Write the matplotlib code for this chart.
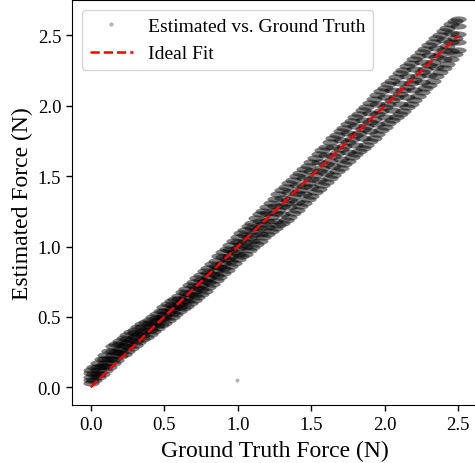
import matplotlib
matplotlib.use('Agg')
import matplotlib.pyplot as plt
from matplotlib.markers import MarkerStyle
from matplotlib.transforms import Affine2D
from matplotlib.lines import Line2D

plt.rcParams['font.family'] = ['Liberation Serif', 'DejaVu Serif']

# ground truth force (N) where the band was read
gt_force = [0.00, 0.05, 0.10, 0.15, 0.20, 0.25, 0.30, 0.35, 0.40, 0.45,
            0.50, 0.55, 0.60, 0.65, 0.70, 0.75, 0.80, 0.85, 0.90, 0.95,
            1.00, 1.05, 1.10, 1.15, 1.20, 1.25, 1.30, 1.35, 1.40, 1.45,
            1.50, 1.55, 1.60, 1.65, 1.70, 1.75, 1.80, 1.85, 1.90, 1.95,
            2.00, 2.05, 2.10, 2.15, 2.20, 2.25, 2.30, 2.35, 2.40, 2.45,
            2.50]

# estimated force, read across the band (lower edge -> upper edge)
est_low = [0.03, 0.07, 0.12, 0.17, 0.22, 0.26, 0.30, 0.34, 0.38, 0.42,
           0.46, 0.50, 0.54, 0.58, 0.62, 0.66, 0.71, 0.76, 0.81, 0.86,
           0.91, 0.95, 1.00, 1.04, 1.09, 1.13, 1.17, 1.21, 1.26, 1.31,
           1.36, 1.41, 1.46, 1.51, 1.56, 1.61, 1.66, 1.70, 1.75, 1.80,
           1.85, 1.90, 1.94, 1.99, 2.04, 2.10, 2.15, 2.21, 2.27, 2.33,
           2.40]
est_q1 = [0.05, 0.095, 0.15, 0.20, 0.25, 0.29, 0.33, 0.37, 0.405, 0.445,
          0.49, 0.53, 0.57, 0.61, 0.655, 0.70, 0.745, 0.795, 0.85, 0.90,
          0.95, 0.995, 1.04, 1.09, 1.14, 1.185, 1.23, 1.28, 1.32, 1.37,
          1.42, 1.47, 1.52, 1.575, 1.625, 1.675, 1.725, 1.77, 1.82, 1.87,
          1.92, 1.97, 2.015, 2.065, 2.115, 2.17, 2.22, 2.275, 2.335, 2.39,
          2.455]
est_mid = [0.075, 0.12, 0.175, 0.23, 0.275, 0.315, 0.355, 0.395, 0.43, 0.47,
           0.515, 0.555, 0.595, 0.64, 0.685, 0.73, 0.78, 0.83, 0.885, 0.935,
           0.99, 1.035, 1.085, 1.135, 1.185, 1.235, 1.285, 1.33, 1.38, 1.43,
           1.48, 1.535, 1.585, 1.64, 1.69, 1.74, 1.79, 1.835, 1.885, 1.94,
           1.99, 2.04, 2.085, 2.135, 2.185, 2.24, 2.29, 2.345, 2.40, 2.455,
           2.51]
est_q3 = [0.10, 0.145, 0.20, 0.26, 0.305, 0.345, 0.385, 0.425, 0.455, 0.495,
          0.545, 0.585, 0.625, 0.67, 0.72, 0.765, 0.815, 0.865, 0.925, 0.975,
          1.03, 1.08, 1.13, 1.185, 1.235, 1.29, 1.345, 1.39, 1.44, 1.49,
          1.54, 1.60, 1.65, 1.705, 1.755, 1.805, 1.855, 1.90, 1.95, 2.01,
          2.06, 2.11, 2.16, 2.21, 2.26, 2.31, 2.36, 2.41, 2.465, 2.52,
          2.565]
est_high = [0.12, 0.17, 0.23, 0.29, 0.33, 0.37, 0.41, 0.45, 0.48, 0.52,
            0.57, 0.61, 0.65, 0.70, 0.75, 0.80, 0.85, 0.90, 0.96, 1.01,
            1.07, 1.12, 1.17, 1.23, 1.28, 1.34, 1.40, 1.45, 1.50, 1.55,
            1.60, 1.66, 1.71, 1.77, 1.82, 1.87, 1.92, 1.97, 2.02, 2.08,
            2.13, 2.18, 2.23, 2.28, 2.33, 2.38, 2.43, 2.48, 2.53, 2.58,
            2.62]

# second pass of readings, between the columns above
gt_force_b = [0.025, 0.075, 0.125, 0.175, 0.225, 0.275, 0.325, 0.375, 0.425, 0.475,
              0.525, 0.575, 0.625, 0.675, 0.725, 0.775, 0.825, 0.875, 0.925, 0.975,
              1.025, 1.075, 1.125, 1.175, 1.225, 1.275, 1.325, 1.375, 1.425, 1.475,
              1.525, 1.575, 1.625, 1.675, 1.725, 1.775, 1.825, 1.875, 1.925, 1.975,
              2.025, 2.075, 2.125, 2.175, 2.225, 2.275, 2.325, 2.375, 2.425, 2.475]
est_low_b = [0.05, 0.095, 0.145, 0.195, 0.24, 0.28, 0.32, 0.36, 0.40, 0.44,
             0.48, 0.52, 0.56, 0.60, 0.64, 0.685, 0.735, 0.785, 0.835, 0.885,
             0.93, 0.975, 1.02, 1.065, 1.11, 1.15, 1.19, 1.235, 1.285, 1.335,
             1.385, 1.435, 1.485, 1.535, 1.585, 1.635, 1.68, 1.725, 1.775, 1.825,
             1.875, 1.92, 1.965, 2.015, 2.07, 2.125, 2.18, 2.24, 2.30, 2.365]
est_mid_b = [0.095, 0.15, 0.20, 0.25, 0.295, 0.335, 0.375, 0.41, 0.45, 0.49,
             0.535, 0.575, 0.615, 0.66, 0.705, 0.755, 0.805, 0.855, 0.91, 0.96,
             1.01, 1.06, 1.11, 1.16, 1.21, 1.26, 1.31, 1.355, 1.405, 1.455,
             1.51, 1.56, 1.61, 1.665, 1.715, 1.765, 1.81, 1.86, 1.91, 1.965,
             2.015, 2.06, 2.11, 2.16, 2.21, 2.265, 2.315, 2.37, 2.425, 2.48]
est_high_b = [0.145, 0.20, 0.26, 0.31, 0.35, 0.39, 0.43, 0.465, 0.50, 0.545,
              0.59, 0.63, 0.675, 0.725, 0.775, 0.825, 0.875, 0.93, 0.985, 1.04,
              1.095, 1.145, 1.20, 1.255, 1.31, 1.37, 1.425, 1.475, 1.525, 1.575,
              1.63, 1.685, 1.74, 1.795, 1.845, 1.895, 1.945, 1.995, 2.05, 2.105,
              2.155, 2.205, 2.255, 2.305, 2.355, 2.405, 2.455, 2.505, 2.555, 2.60]

# single stray sample
outlier_gt = [0.995]
outlier_est = [0.052]

ideal = [0.0, 2.5]

fig = plt.figure(figsize=(4.75, 4.64), dpi=100)
ax = fig.add_axes([0.1522, 0.1256, 0.8514, 0.8722])

# thin horizontal streaks so neighbouring samples merge into a band
streak = MarkerStyle('o', transform=Affine2D().scale(2.6, 1.0))
for est in [est_low, est_q1, est_mid, est_q3, est_high]:
    ax.scatter(gt_force, est, s=20, marker=streak, color='black',
               alpha=0.5, linewidths=0)
for est in [est_low_b, est_mid_b, est_high_b]:
    ax.scatter(gt_force_b, est, s=20, marker=streak, color='black',
               alpha=0.5, linewidths=0)
ax.scatter(outlier_gt, outlier_est, s=8, color='black', alpha=0.3, linewidths=0)

ax.plot(ideal, ideal, color='red', linestyle='--', linewidth=1.8)

ax.set_xlim(-0.125, 2.625)
ax.set_ylim(-0.124, 2.752)
ax.set_xticks([0.0, 0.5, 1.0, 1.5, 2.0, 2.5])
ax.set_yticks([0.0, 0.5, 1.0, 1.5, 2.0, 2.5])
ax.tick_params(labelsize=13.5, length=4.5, width=1.0)
ax.set_xlabel('Ground Truth Force (N)', fontsize=17, labelpad=5)
ax.set_ylabel('Estimated Force (N)', fontsize=17, labelpad=3)

handles = [
    Line2D([], [], linestyle='none', marker='o', markersize=3,
           color='black', alpha=0.3, markeredgewidth=0),
    Line2D([], [], color='red', linestyle='--', linewidth=1.8),
]
ax.legend(handles, ['Estimated vs. Ground Truth', 'Ideal Fit'],
          loc='upper left', fontsize=14, handlelength=2.2,
          borderaxespad=0.5, framealpha=0.8)

fig.savefig('out.png', dpi=100)
